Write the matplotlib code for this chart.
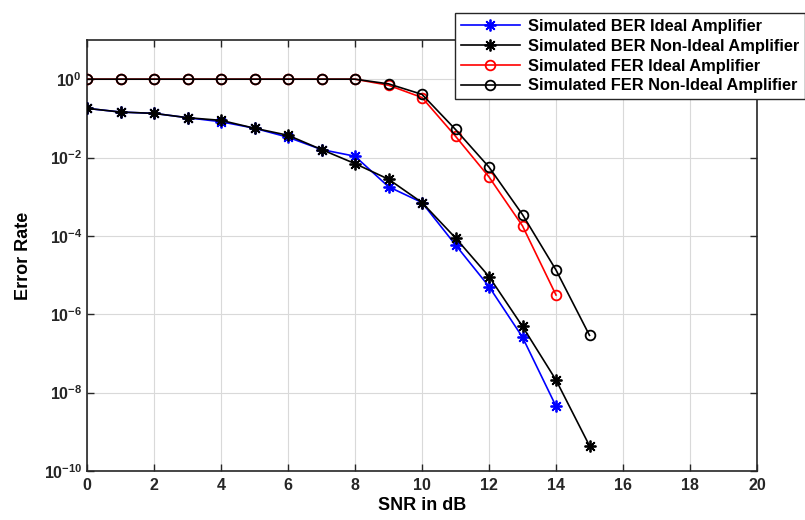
import matplotlib
matplotlib.use("Agg")
import matplotlib.pyplot as plt
from matplotlib.ticker import FixedLocator, FuncFormatter, NullLocator
import numpy as np

plt.rcParams['font.family'] = ['Liberation Sans', 'DejaVu Sans']
plt.rcParams['mathtext.fontset'] = 'custom'
plt.rcParams['mathtext.rm'] = 'Liberation Sans:bold'
plt.rcParams['mathtext.bf'] = 'Liberation Sans:bold'

snr_ber_ideal = [0, 1, 2, 3, 4, 5, 6, 7, 8, 9, 10, 11, 12, 13, 14]
ber_ideal = [0.18, 0.145, 0.134, 0.104, 0.082, 0.056, 0.033, 0.016, 0.0108,
             1.8e-3, 7.1e-4, 5.9e-5, 5.1e-6, 2.6e-7, 4.5e-9]

snr_ber_nonideal = [0, 1, 2, 3, 4, 5, 6, 7, 8, 9, 10, 11, 12, 13, 14, 15]
ber_nonideal = [0.18, 0.145, 0.134, 0.104, 0.089, 0.056, 0.037, 0.016, 0.007,
                2.8e-3, 7.1e-4, 8.9e-5, 9.2e-6, 4.9e-7, 2.1e-8, 4.4e-10]

snr_fer_ideal = [0, 1, 2, 3, 4, 5, 6, 7, 8, 9, 10, 11, 12, 13, 14]
fer_ideal = [1, 1, 1, 1, 1, 1, 1, 1, 1, 0.70, 0.34, 0.035, 3.2e-3, 1.8e-4, 3.1e-6]

snr_fer_nonideal = [0, 1, 2, 3, 4, 5, 6, 7, 8, 9, 10, 11, 12, 13, 14, 15]
fer_nonideal = [1, 1, 1, 1, 1, 1, 1, 1, 1, 0.76, 0.41, 0.052, 5.7e-3, 3.5e-4, 1.35e-5, 2.9e-7]

series_labels = ["Simulated BER Ideal Amplifier",
                 "Simulated BER Non-Ideal Amplifier",
                 "Simulated FER Ideal Amplifier",
                 "Simulated FER Non-Ideal Amplifier"]

x_ticks = [0, 2, 4, 6, 8, 10, 12, 14, 16, 18, 20]
y_exponents = [0, -2, -4, -6, -8, -10]

fig = plt.figure(figsize=(8.05, 5.2), dpi=100)
ax = fig.add_axes([87 / 805, 1 - 471 / 520, (757 - 87) / 805, (471 - 40) / 520])

# eight-armed asterisk marker
asterisk = (8, 2, 0)
lw = 1.2
ax.plot(snr_ber_ideal, ber_ideal, color='#0000ff', marker=asterisk, markersize=8.5,
        markeredgewidth=1.3, linewidth=lw, label=series_labels[0], zorder=3)
ax.plot(snr_ber_nonideal, ber_nonideal, color='black', marker=asterisk, markersize=8.5,
        markeredgewidth=1.3, linewidth=lw, label=series_labels[1], zorder=3)
ax.plot(snr_fer_ideal, fer_ideal, color='#ff0000', marker='o', markersize=7,
        markerfacecolor='none', markeredgewidth=1.3, linewidth=lw,
        label=series_labels[2], zorder=3)
ax.plot(snr_fer_nonideal, fer_nonideal, color='black', marker='o', markersize=7,
        markerfacecolor='none', markeredgewidth=1.3, linewidth=lw,
        label=series_labels[3], zorder=3)

ax.set_yscale('log')
ax.set_xlim(0, 20)
ax.set_ylim(1e-10, 1e1)
ax.xaxis.set_major_locator(FixedLocator(x_ticks))
ax.yaxis.set_major_locator(FixedLocator([10.0 ** e for e in y_exponents]))
ax.yaxis.set_minor_locator(NullLocator())
ax.yaxis.set_major_formatter(FuncFormatter(
    lambda v, p: r'$\mathbf{10^{%d}}$' % int(round(np.log10(v)))))

ax.tick_params(axis='both', direction='in', top=True, right=True,
               length=5, width=1.0, labelsize=11.5, colors='#262626')
ax.tick_params(axis='x', pad=5)
for lbl in ax.get_xticklabels():
    lbl.set_fontweight('bold')

ax.grid(True, color='#d9d9d9', linewidth=0.8)
ax.set_axisbelow(True)
for s in ax.spines.values():
    s.set_linewidth(1.2)
    s.set_color('#262626')

ax.set_xlabel('SNR in dB', fontsize=13, fontweight='bold', labelpad=3)
ax.set_ylabel('Error Rate', fontsize=13, fontweight='bold', labelpad=8)

leg = ax.legend(loc='upper right', bbox_to_anchor=(1.0, 1 - 13 / 520),
                bbox_transform=fig.transFigure,
                prop={'weight': 'bold', 'size': 11.8}, fancybox=False,
                framealpha=1, edgecolor='#262626', handlelength=3.6,
                borderpad=0.35, labelspacing=0.3, handletextpad=0.5,
                borderaxespad=0)
leg.get_frame().set_linewidth(1.0)
legend_colors = ['#0000ff', 'black', '#ff0000', 'black']
for h, c in zip(leg.legend_handles, legend_colors):
    h.set_color(c)

fig.savefig('out.png', dpi=100)
